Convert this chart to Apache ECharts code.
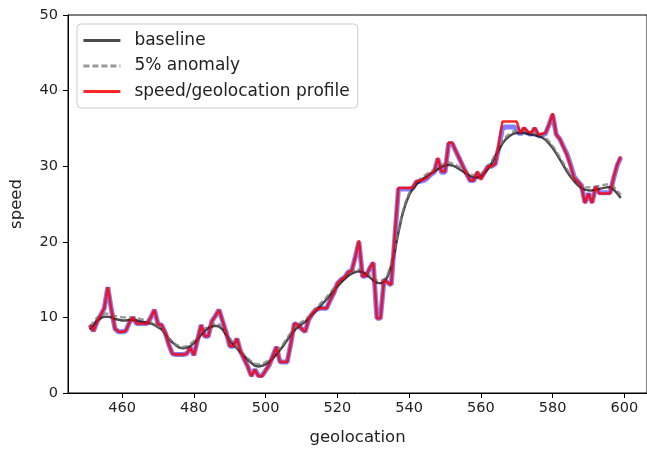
<!DOCTYPE html>
<html>
<head>
<meta charset="utf-8">
<script src="https://cdn.jsdelivr.net/npm/echarts@6/dist/echarts.min.js"></script>
<style>
html,body{margin:0;padding:0;background:#fff;}
#chart{width:647px;height:451px;}
</style>
</head>
<body>
<div id="chart"></div>
<script>
var geolocation = [
  451,452,453,454,455,456,457,458,459,460,
  461,462,463,464,465,466,467,468,469,470,
  471,472,473,474,475,476,477,478,479,480,
  481,482,483,484,485,486,487,488,489,490,
  491,492,493,494,495,496,497,498,499,500,
  501,502,503,504,505,506,507,508,509,510,
  511,512,513,514,515,516,517,518,519,520,
  521,522,523,524,525,526,527,528,529,530,
  531,532,533,534,535,536,537,538,539,540,
  541,542,543,544,545,546,547,548,549,550,
  551,552,553,554,555,556,557,558,559,560,
  561,562,563,564,565,566,567,568,569,570,
  571,572,573,574,575,576,577,578,579,580,
  581,582,583,584,585,586,587,588,589,590,
  591,592,593,594,595,596,597,598,599
];
var baseline = [
  8.4, 9.0, 9.6, 9.9, 10.1, 10.1, 10.0, 9.8, 9.7, 9.6,
  9.6, 9.7, 9.7, 9.6, 9.5, 9.4, 9.3, 9.2, 9.0, 8.7,
  8.4, 7.8, 7.2, 6.7, 6.3, 6.0, 5.9, 6.0, 6.2, 6.6,
  7.1, 7.7, 8.2, 8.6, 8.8, 8.9, 8.8, 8.4, 7.7, 7.0,
  6.4, 5.9, 5.4, 4.9, 4.4, 4.0, 3.6, 3.5, 3.6, 3.8,
  4.1, 4.6, 5.1, 5.7, 6.3, 7.0, 7.7, 8.3, 8.7, 9.1,
  9.4, 9.9, 10.4, 10.9, 11.4, 11.9, 12.4, 13.0, 13.6, 14.1,
  14.6, 15.1, 15.5, 15.8, 16.0, 16.1, 16.0, 15.7, 15.3, 14.9,
  14.6, 14.5, 14.7, 15.4, 16.8, 18.8, 21.2, 23.4, 25.0, 26.2,
  27.0, 27.6, 28.0, 28.4, 28.7, 29.0, 29.3, 29.6, 29.9, 30.1,
  30.2, 30.1, 29.9, 29.6, 29.3, 29.0, 28.7, 28.5, 28.5, 28.7,
  29.1, 29.7, 30.4, 31.3, 32.2, 33.0, 33.6, 34.0, 34.3, 34.4,
  34.4, 34.4, 34.3, 34.2, 34.1, 34.0, 33.8, 33.5, 33.0, 32.4,
  31.7, 30.9, 30.1, 29.3, 28.6, 28.0, 27.5, 27.1, 26.9, 26.8,
  26.8, 26.9, 27.0, 27.1, 27.2, 27.2, 26.9, 26.4, 25.8
];
var anomaly = [
  8.8, 9.4, 10.0, 10.3, 10.5, 10.5, 10.4, 10.2, 10.1, 10.0,
  10.0, 10.0, 10.0, 9.9, 9.8, 9.7, 9.6, 9.4, 9.2, 8.9,
  8.5, 7.9, 7.3, 6.8, 6.4, 6.2, 6.1, 6.2, 6.5, 6.9,
  7.4, 8.0, 8.5, 8.9, 9.1, 9.2, 9.1, 8.7, 8.0, 7.3,
  6.6, 6.1, 5.6, 5.1, 4.6, 4.2, 3.9, 3.8, 3.9, 4.1,
  4.4, 4.9, 5.4, 6.0, 6.6, 7.3, 8.0, 8.6, 9.0, 9.4,
  9.7, 10.2, 10.7, 11.2, 11.7, 12.2, 12.7, 13.3, 13.9, 14.4,
  14.9, 15.4, 15.8, 16.1, 16.3, 16.4, 16.3, 16.0, 15.6, 15.2,
  14.9, 14.8, 15.0, 15.7, 17.1, 19.1, 21.5, 23.7, 25.3, 26.5,
  27.3, 27.9, 28.3, 28.7, 29.0, 29.3, 29.6, 29.9, 30.2, 30.4,
  30.5, 30.4, 30.2, 29.9, 29.6, 29.3, 29.0, 28.8, 28.8, 29.0,
  29.4, 30.0, 30.7, 31.6, 32.5, 33.3, 33.9, 34.3, 34.6, 34.7,
  34.7, 34.7, 34.6, 34.5, 34.4, 34.3, 34.1, 33.8, 33.3, 32.7,
  32.0, 31.2, 30.4, 29.6, 28.9, 28.3, 27.8, 27.4, 27.2, 27.2,
  27.2, 27.3, 27.4, 27.5, 27.6, 27.6, 27.3, 26.8, 26.2
];
var measured = [
  9.0, 8.2, 9.4, 10.3, 11.2, 14.0, 11.0, 8.5, 8.1, 8.1,
  8.2, 9.3, 10.0, 9.2, 9.2, 9.2, 9.2, 10.0, 11.0, 9.1,
  9.0, 8.0, 6.4, 5.2, 5.1, 5.1, 5.1, 5.2, 6.0, 5.0,
  7.0, 9.0, 7.5, 7.5, 9.5, 10.2, 11.0, 9.5, 8.0, 6.2,
  6.2, 7.2, 5.5, 4.5, 3.5, 2.3, 3.1, 2.3, 2.3, 3.0,
  3.7, 4.9, 6.1, 4.1, 4.1, 4.1, 6.5, 9.2, 9.0, 8.5,
  8.1, 9.7, 10.5, 11.0, 11.2, 11.2, 11.2, 12.3, 13.2, 14.5,
  15.0, 15.3, 16.0, 16.2, 18.0, 20.0, 15.4, 15.5, 16.5, 17.2,
  9.9, 9.9, 15.0, 14.6, 14.3, 20.5, 27.0, 27.0, 27.0, 27.0,
  27.1, 27.9, 28.0, 28.1, 28.4, 28.9, 29.2, 31.0, 29.2, 29.2,
  33.0, 33.0, 32.0, 31.0, 30.0, 29.0, 28.1, 28.1, 29.1, 28.4,
  29.2, 30.0, 30.0, 30.3, 32.5, 35.0, 35.2, 35.2, 35.2, 35.0,
  34.2, 35.0, 34.4, 34.2, 35.0, 34.0, 34.1, 34.3, 35.5, 36.8,
  34.2, 33.6, 32.6, 31.6, 30.2, 28.6, 28.0, 27.5, 25.2, 26.4,
  25.2, 27.3, 26.5, 26.5, 26.5, 26.5, 28.4, 30.1, 31.2
];
var profile = [
  9.0, 8.2, 9.4, 10.3, 11.2, 14.0, 11.0, 8.5, 8.1, 8.1,
  8.2, 9.3, 10.0, 9.2, 9.2, 9.2, 9.2, 10.0, 11.0, 9.1,
  9.0, 8.0, 6.4, 5.2, 5.1, 5.1, 5.1, 5.2, 6.0, 5.0,
  7.0, 9.0, 7.5, 7.5, 9.5, 10.2, 11.0, 9.5, 8.0, 6.2,
  6.2, 7.2, 5.5, 4.5, 3.5, 2.2, 3.1, 2.2, 2.2, 3.0,
  3.7, 4.9, 6.1, 4.1, 4.1, 4.1, 6.5, 9.2, 9.0, 8.5,
  8.1, 9.7, 10.5, 11.0, 11.2, 11.2, 11.2, 12.3, 13.2, 14.5,
  15.0, 15.3, 16.0, 16.2, 18.0, 20.2, 15.4, 15.5, 16.5, 17.3,
  9.9, 9.9, 15.0, 14.6, 14.3, 21.0, 27.1, 27.1, 27.1, 27.1,
  27.2, 28.0, 28.1, 28.2, 28.5, 29.0, 29.3, 31.1, 29.3, 29.3,
  33.1, 33.1, 32.0, 31.0, 30.0, 29.0, 28.1, 28.1, 29.3, 28.2,
  29.2, 30.0, 30.0, 30.3, 33.0, 35.9, 35.9, 35.9, 35.9, 35.9,
  34.4, 35.1, 34.6, 34.4, 35.1, 34.2, 34.3, 34.4, 35.5, 37.0,
  34.2, 33.6, 32.5, 31.5, 30.0, 28.4, 28.0, 27.4, 25.1, 26.4,
  25.1, 27.3, 26.4, 26.4, 26.4, 26.4, 28.5, 30.2, 31.3
];
var xTicks = [460, 480, 500, 520, 540, 560, 580, 600];
var yTicks = [0, 10, 20, 30, 40, 50];

function pairs(vals) {
  return geolocation.map(function (g, i) { return [g, vals[i]]; });
}

var FONT = 'DejaVu Sans';
var chart = echarts.init(document.getElementById('chart'), null, {renderer: 'canvas'});
chart.setOption({
  animation: false,
  backgroundColor: '#ffffff',
  textStyle: {fontFamily: FONT},
  grid: {left: 67, top: 15, right: -7, bottom: 58, show: true, borderColor: '#000', borderWidth: 1, backgroundColor: 'transparent'},
  legend: {
    data: ['baseline', '5% anomaly', 'speed/geolocation profile'],
    orient: 'vertical',
    left: 77, top: 24,
    itemWidth: 37, itemHeight: 14, itemGap: 8.5,
    padding: [8, 8, 8, 5],
    borderColor: '#cccccc', borderWidth: 1, borderRadius: 4,
    backgroundColor: 'rgba(255,255,255,0.8)',
    itemStyle: {opacity: 0},
    lineStyle: {width: 2.8},
    textStyle: {fontFamily: FONT, fontSize: 17, color: '#222', padding: [0, 0, 0, 9], lineHeight: 14}
  },
  xAxis: {
    type: 'value', min: 444.9, max: 606.3,
    name: 'geolocation', nameLocation: 'middle', nameGap: 36,
    nameTextStyle: {fontFamily: FONT, fontSize: 16.5, color: '#222'},
    axisLine: {lineStyle: {color: '#000', width: 1}},
    axisTick: {show: true, length: 5, lineStyle: {color: '#000'}, customValues: xTicks},
    axisLabel: {fontFamily: FONT, fontSize: 14.5, color: '#222', margin: 8, customValues: xTicks},
    splitLine: {show: false}
  },
  yAxis: {
    type: 'value', min: 0, max: 50, interval: 10,
    name: 'speed', nameLocation: 'middle', nameGap: 43, nameRotate: 90,
    nameTextStyle: {fontFamily: FONT, fontSize: 16.5, color: '#222'},
    axisLine: {show: true, lineStyle: {color: '#000', width: 1}},
    axisTick: {show: true, length: 5, lineStyle: {color: '#000'}, customValues: yTicks},
    axisLabel: {fontFamily: FONT, fontSize: 14.5, color: '#222', margin: 10, customValues: yTicks},
    splitLine: {show: false}
  },
  series: [
    {name: 'measured', type: 'line', data: pairs(measured), symbol: 'none', z: 2,
     lineStyle: {color: '#0000ff', width: 5, opacity: 0.5}, itemStyle: {color: '#0000ff'}},
    {name: 'baseline', type: 'line', data: pairs(baseline), symbol: 'none', z: 3,
     lineStyle: {color: '#000000', width: 2.5, opacity: 0.7}, itemStyle: {color: '#404040'}},
    {name: '5% anomaly', type: 'line', data: pairs(anomaly), symbol: 'none', z: 3,
     lineStyle: {color: '#808080', width: 2.2, opacity: 0.8, type: [6, 3]}, itemStyle: {color: '#999999'}},
    {name: 'speed/geolocation profile', type: 'line', data: pairs(profile), symbol: 'none', z: 4,
     lineStyle: {color: '#ff0000', width: 2.5, opacity: 0.85}, itemStyle: {color: '#ff3333'}}
  ]
});
</script>
</body>
</html>
